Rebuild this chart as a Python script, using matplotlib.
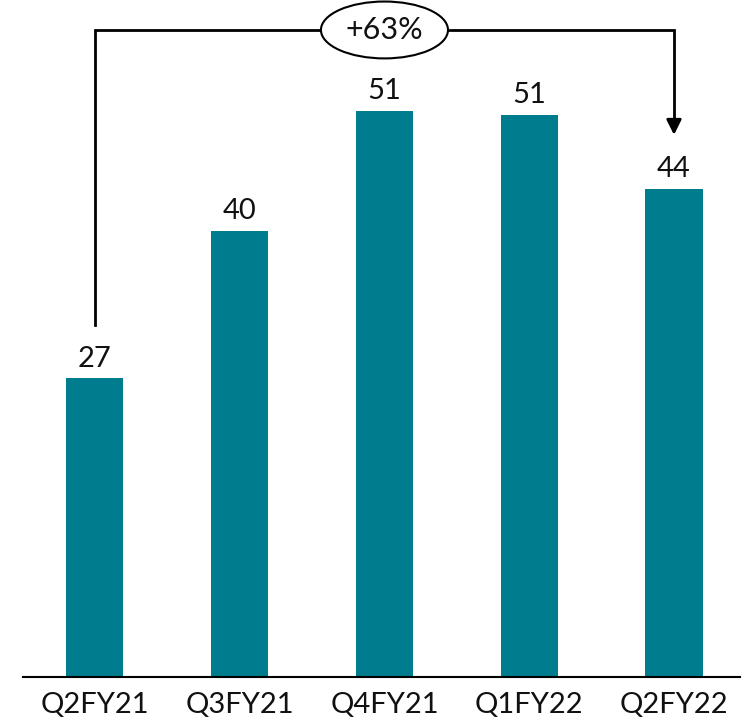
import matplotlib.pyplot as plt

quarters = ['Q2FY21', 'Q3FY21', 'Q4FY21', 'Q1FY22', 'Q2FY22']
values = [26.9, 40.2, 51.0, 50.6, 44.0]
labels = ['27', '40', '51', '51', '44']
growth = '+63%'

plt.rcParams['font.family'] = ['Lato', 'DejaVu Sans']

fig = plt.figure(figsize=(7.52, 7.26), dpi=100)
ax = fig.add_axes([23 / 752, 49 / 726, 717 / 752, 677 / 726])

x = range(len(quarters))
bars = ax.bar(x, values, width=0.394, color='#007C8F')

# labels above bars
for xi, v, lab in zip(x, values, labels):
    ax.annotate(lab, (xi, v), xytext=(0, 5), textcoords='offset points',
                ha='center', va='bottom', fontsize=21, color='#111111')

ax.set_xlim(-0.497, 4.456)
ax.set_ylim(0, 61)
ax.set_xticks(list(x))
ax.set_xticklabels(quarters, fontsize=21, color='#111111')
ax.tick_params(axis='x', length=0, pad=11)
ax.set_yticks([])
for s in ['left', 'right', 'top']:
    ax.spines[s].set_visible(False)
ax.spines['bottom'].set_linewidth(1.5)

# growth bracket
top = 58.3
ax.plot([0, 0, 4, 4], [values[0] + 4.8, top, top, values[-1] + 6], color='black', lw=2,
        solid_joinstyle='miter')
ax.annotate('', xy=(4, values[-1] + 4.6), xytext=(4, values[-1] + 6.5),
            arrowprops=dict(arrowstyle='-|>,head_width=0.45,head_length=0.9',
                            color='black', lw=2))
ax.text(2, top, growth, ha='center', va='center', fontsize=22, color='#111111',
        bbox=dict(boxstyle='ellipse,pad=0.2', fc='white', ec='black', lw=1.5))

fig.savefig('out.png', dpi=100)
